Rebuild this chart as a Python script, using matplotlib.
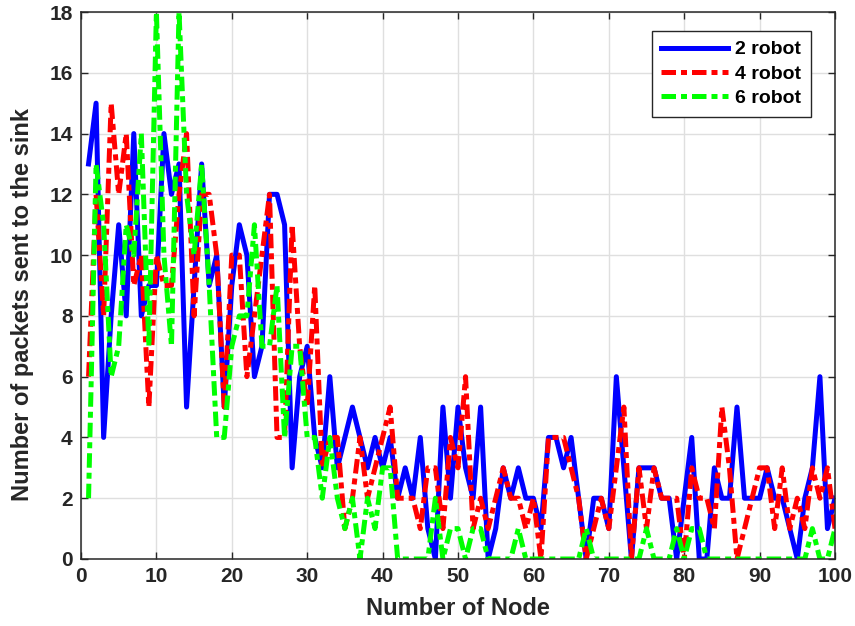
"""Packets delivered to the sink per node, for 2, 4 and 6 robots."""

import matplotlib
matplotlib.use("Agg")
import matplotlib.pyplot as plt
import numpy as np

nodes = np.arange(1, 101)

robot2 = [13, 15, 4, 8, 11, 8, 14, 8, 9, 9,
          14, 12, 13, 5, 9, 13, 9, 10, 5, 9,
          11, 10, 6, 7, 12, 12, 11, 3, 6, 7,
          4, 3, 6, 3, 4, 5, 4, 3, 4, 3,
          4, 2, 3, 2, 4, 1, 0, 5, 2, 5,
          3, 2, 5, 0, 1, 3, 2, 3, 2, 2,
          1, 4, 4, 3, 4, 2, 0, 2, 2, 1,
          6, 3, 0, 3, 3, 3, 2, 2, 0, 2,
          4, 0, 0, 3, 2, 2, 5, 2, 2, 2,
          3, 2, 2, 1, 0, 2, 3, 6, 1, 2]

robot4 = [6, 12, 8, 15, 12, 14, 9, 10, 5, 10,
          9, 9, 12, 14, 8, 12, 12, 10, 5, 10,
          10, 6, 8, 10, 12, 4, 4, 11, 7, 5,
          9, 3, 4, 4, 1, 2, 4, 2, 3, 4,
          5, 2, 2, 2, 1, 3, 3, 1, 4, 3,
          6, 1, 2, 1, 2, 3, 2, 2, 1, 2,
          0, 4, 4, 4, 3, 2, 0, 1, 2, 1,
          3, 5, 0, 3, 1, 3, 2, 2, 2, 0,
          3, 2, 2, 1, 5, 3, 0, 1, 2, 3,
          3, 1, 3, 1, 2, 1, 3, 2, 3, 1]

robot6 = [2, 13, 11, 6, 7, 11, 10, 14, 7, 18,
          10, 7, 18, 12, 10, 13, 9, 4, 4, 7,
          8, 8, 11, 7, 7, 9, 4, 7, 7, 4,
          4, 2, 4, 2, 1, 2, 0, 2, 1, 3,
          3, 0, 0, 0, 0, 0, 2, 0, 1, 1,
          0, 1, 1, 0, 0, 0, 0, 1, 0, 0,
          0, 0, 0, 0, 0, 0, 1, 0, 0, 0,
          0, 0, 0, 0, 1, 0, 0, 0, 1, 0,
          1, 1, 0, 0, 0, 0, 0, 0, 0, 0,
          0, 0, 0, 0, 0, 0, 1, 0, 0, 1]

labels = ["2 robot", "4 robot", "6 robot"]

plt.rcParams.update({
    "font.family": ["Liberation Sans", "DejaVu Sans"],
    "font.weight": "bold",
    "axes.labelweight": "bold",
})

DASHDOT = (0, (2.9, 1.0, 1.2, 1.0))

fig = plt.figure(figsize=(8.55, 6.26), dpi=100)
ax = fig.add_axes([81 / 855, 1 - 559 / 626, (835 - 81) / 855, (559 - 12) / 626])

ax.plot(nodes, robot2, color="#0000FF", lw=3.6, ls="-", label=labels[0])
ax.plot(nodes, robot4, color="#FF0000", lw=3.6, ls=DASHDOT, label=labels[1])
ax.plot(nodes, robot6, color="#00FF00", lw=3.6, ls=DASHDOT, label=labels[2])

ax.set_xlim(0, 100)
ax.set_ylim(0, 18)
ax.set_xticks(np.arange(0, 101, 10))
ax.set_yticks(np.arange(0, 19, 2))
ax.grid(True, color="#DFDFDF", linewidth=1.0)
ax.set_axisbelow(True)
ax.tick_params(direction="in", length=5, width=1, colors="#262626",
               labelsize=15, top=True, right=True, pad=6)
for s in ax.spines.values():
    s.set_color("#262626")
    s.set_linewidth(1.1)

ax.set_xlabel("Number of Node", fontsize=17, color="#262626", labelpad=8)
ax.set_ylabel("Number of packets sent to the sink", fontsize=17,
              color="#262626")
ax.yaxis.set_label_coords(-0.062, 0.466)

leg = ax.legend(loc="upper right",
                bbox_to_anchor=((811 - 81) / 754, (559 - 31) / 547),
                borderaxespad=0, fontsize=14, handlelength=3.4,
                handletextpad=0.4, labelspacing=0.35, fancybox=False,
                framealpha=1, edgecolor="#262626", borderpad=0.5)
leg.get_frame().set_linewidth(1.0)

fig.savefig("out.png", dpi=100)
